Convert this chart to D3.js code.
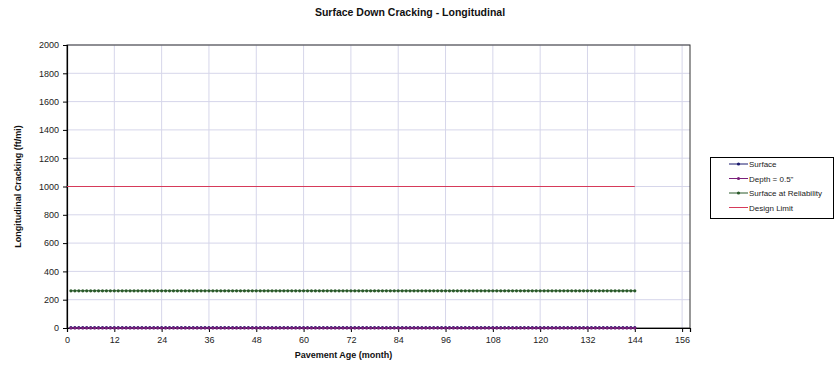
<!DOCTYPE html>
<html><head><meta charset="utf-8">
<script src="https://cdn.jsdelivr.net/npm/d3@7"></script>
<style>body{margin:0;background:#fff;}svg{display:block;font-family:"Liberation Sans",Arial,sans-serif;}</style>
</head><body><svg id="c" width="839" height="368"></svg>
<script>
const months = [1,2,3,4,5,6,7,8,9,10,11,12,13,14,15,16,17,18,19,20,21,22,23,24,25,26,27,28,29,30,31,32,33,34,35,36,37,38,39,40,41,42,43,44,45,46,47,48,49,50,51,52,53,54,55,56,57,58,59,60,61,62,63,64,65,66,67,68,69,70,71,72,73,74,75,76,77,78,79,80,81,82,83,84,85,86,87,88,89,90,91,92,93,94,95,96,97,98,99,100,101,102,103,104,105,106,107,108,109,110,111,112,113,114,115,116,117,118,119,120,121,122,123,124,125,126,127,128,129,130,131,132,133,134,135,136,137,138,139,140,141,142,143,144];
const surface = [2,2,2,2,2,2,2,2,2,2,2,2,2,2,2,2,2,2,2,2,2,2,2,2,2,2,2,2,2,2,2,2,2,2,2,2,2,2,2,2,2,2,2,2,2,2,2,2,2,2,2,2,2,2,2,2,2,2,2,2,2,2,2,2,2,2,2,2,2,2,2,2,2,2,2,2,2,2,2,2,2,2,2,2,2,2,2,2,2,2,2,2,2,2,2,2,2,2,2,2,2,2,2,2,2,2,2,2,2,2,2,2,2,2,2,2,2,2,2,2,2,2,2,2,2,2,2,2,2,2,2,2,2,2,2,2,2,2,2,2,2,2,2,2];
const depth05 = [0,0,0,0,0,0,0,0,0,0,0,0,0,0,0,0,0,0,0,0,0,0,0,0,0,0,0,0,0,0,0,0,0,0,0,0,0,0,0,0,0,0,0,0,0,0,0,0,0,0,0,0,0,0,0,0,0,0,0,0,0,0,0,0,0,0,0,0,0,0,0,0,0,0,0,0,0,0,0,0,0,0,0,0,0,0,0,0,0,0,0,0,0,0,0,0,0,0,0,0,0,0,0,0,0,0,0,0,0,0,0,0,0,0,0,0,0,0,0,0,0,0,0,0,0,0,0,0,0,0,0,0,0,0,0,0,0,0,0,0,0,0,0,0];
const reliability = [263,263,263,263,263,263,263,263,263,263,263,263,263,263,263,263,263,263,263,263,263,263,263,263,263,263,263,263,263,263,263,263,263,263,263,263,263,263,263,263,263,263,263,263,263,263,263,263,263,263,263,263,263,263,263,263,263,263,263,263,263,263,263,263,263,263,263,263,263,263,263,263,263,263,263,263,263,263,263,263,263,263,263,263,263,263,263,263,263,263,263,263,263,263,263,263,263,263,263,263,263,263,263,263,263,263,263,263,263,263,263,263,263,263,263,263,263,263,263,263,263,263,263,263,263,263,263,263,263,263,263,263,263,263,263,263,263,263,263,263,263,263,263,263];
const limitX = [0,144];
const limitY = [1000,1000];
const xTicks = [0,12,24,36,48,60,72,84,96,108,120,132,144,156];
const yTicks = [0,200,400,600,800,1000,1200,1400,1600,1800,2000];
const seriesNames = ["Surface","Depth = 0.5\"","Surface at Reliability","Design Limit"];
const seriesColors = ["#1a1a6e","#7a1f7a","#2a5a2a","#d63a5a"];

const svg = d3.select("#c");
const L=67,R=690,T=45,B=328;
const x = d3.scaleLinear().domain([0,158]).range([L,R]);
const y = d3.scaleLinear().domain([0,2000]).range([B,T]);

// gridlines
svg.append("g").selectAll("line").data(xTicks.filter(d=>d>0)).join("line")
  .attr("x1",d=>x(d)).attr("x2",d=>x(d)).attr("y1",T).attr("y2",B)
  .attr("stroke","#d6d6ea").attr("stroke-width",1);
svg.append("g").selectAll("line").data(yTicks.filter(d=>d>0)).join("line")
  .attr("x1",L).attr("x2",R).attr("y1",d=>y(d)).attr("y2",d=>y(d))
  .attr("stroke","#d6d6ea").attr("stroke-width",1);

// plot border
svg.append("rect").attr("x",L).attr("y",T).attr("width",R-L).attr("height",B-T)
  .attr("fill","none").attr("stroke","#333").attr("stroke-width",1);

// axes
const xAxis = svg.append("g").attr("transform",`translate(0,${B})`)
  .call(d3.axisBottom(x).tickValues(xTicks).tickFormat(d3.format("d")).tickSize(4).tickPadding(5));
const yAxis = svg.append("g").attr("transform",`translate(${L},0)`)
  .call(d3.axisLeft(y).tickValues(yTicks).tickFormat(d3.format("d")).tickSize(4).tickPadding(4));
[xAxis,yAxis].forEach(a=>{
  a.select(".domain").attr("stroke","#000").attr("stroke-width",1.2);
  a.selectAll(".tick line").attr("stroke","#000");
  a.selectAll("text").attr("font-family","Liberation Sans, Arial, sans-serif").attr("font-size",9).attr("fill","#222");
});

// series
const line = d3.line().x(d=>x(d[0])).y(d=>y(d[1]));
const series = [
  {vals:surface, c:seriesColors[0]},
  {vals:reliability, c:seriesColors[2]},
  {vals:depth05, c:seriesColors[1]}
];
series.forEach(s=>{
  const pts = months.map((m,i)=>[m,s.vals[i]]);
  svg.append("path").datum(pts).attr("d",line).attr("fill","none").attr("stroke",s.c).attr("stroke-width",1);
  svg.append("g").selectAll("circle").data(pts).join("circle")
    .attr("cx",d=>x(d[0])).attr("cy",d=>y(d[1])).attr("r",1.6).attr("fill",s.c);
});
svg.append("path").datum(limitX.map((v,i)=>[v,limitY[i]])).attr("d",line)
  .attr("fill","none").attr("stroke",seriesColors[3]).attr("stroke-width",1.2);

// titles
svg.append("text").attr("x",410).attr("y",16).attr("text-anchor","middle")
  .attr("font-size",10.5).attr("font-weight","bold").attr("fill","#111")
  .text("Surface Down Cracking - Longitudinal");
svg.append("text").attr("x",(L+R)/2 - 35).attr("y",358).attr("text-anchor","middle")
  .attr("font-size",9).attr("font-weight","bold").attr("fill","#111")
  .text("Pavement Age (month)");
svg.append("text").attr("transform",`translate(21,${(T+B)/2}) rotate(-90)`).attr("text-anchor","middle")
  .attr("font-size",9).attr("font-weight","bold").attr("fill","#111")
  .text("Longitudinal Cracking (ft/mi)");

// legend
const lg = svg.append("g");
lg.append("rect").attr("x",710.5).attr("y",157.5).attr("width",123).attr("height",61)
  .attr("fill","#fff").attr("stroke","#000").attr("stroke-width",1);
seriesNames.forEach((n,i)=>{
  const yy = 164 + i*14.5;
  lg.append("line").attr("x1",729).attr("x2",748).attr("y1",yy).attr("y2",yy)
    .attr("stroke",seriesColors[i]).attr("stroke-width",1);
  if(i<3) lg.append("circle").attr("cx",738.5).attr("cy",yy).attr("r",1.6).attr("fill",seriesColors[i]);
  lg.append("text").attr("x",749).attr("y",yy+3).attr("font-size",8).attr("fill","#222").text(n);
});
</script></body></html>
